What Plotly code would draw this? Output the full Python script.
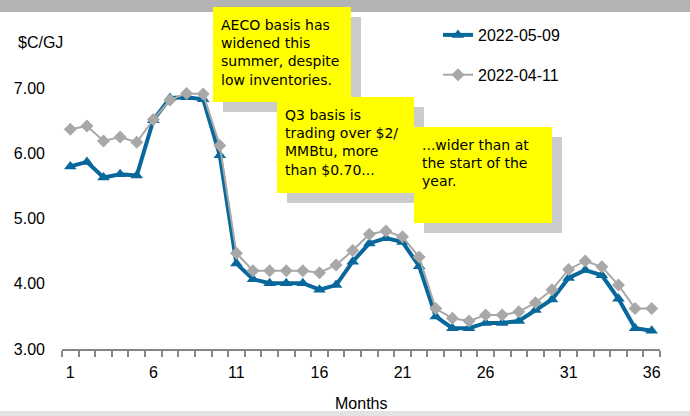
import plotly.graph_objects as go

months = list(range(1, 37))
may09 = [5.80, 5.87, 5.63, 5.68, 5.66, 6.51, 6.85, 6.86, 6.83, 5.97,
         4.31, 4.07, 4.01, 4.01, 4.01, 3.91, 3.98, 4.34, 4.62, 4.70,
         4.64, 4.27, 3.50, 3.32, 3.32, 3.40, 3.40, 3.43, 3.60, 3.76,
         4.09, 4.21, 4.13, 3.77, 3.32, 3.28]
apr11 = [6.37, 6.42, 6.19, 6.25, 6.17, 6.52, 6.82, 6.92, 6.91, 6.12,
         4.47, 4.20, 4.20, 4.20, 4.20, 4.17, 4.29, 4.51, 4.76, 4.81,
         4.72, 4.41, 3.62, 3.47, 3.43, 3.52, 3.52, 3.57, 3.71, 3.91,
         4.22, 4.35, 4.26, 3.98, 3.62, 3.62]
x_ticks = [1, 6, 11, 16, 21, 26, 31, 36]
y_ticks = [3, 4, 5, 6, 7]
y_tick_labels = ["3.00", "4.00", "5.00", "6.00", "7.00"]

notes = [
    "AECO basis has<br>widened this<br>summer, despite<br>low inventories.",
    "Q3 basis is<br>trading over $2/<br>MMBtu, more<br>than $0.70...",
    "...wider than at<br>the start of the<br>year.",
]

W, H = 690, 416
ML, MR, MT, MB = 62, 30, 23, 67
PW, PH = W - ML - MR, H - MT - MB


def px(x):
    return (x - ML) / PW


def py(y):
    return (H - MB - y) / PH


BLUE = "#08679b"
GRAY = "#a8a8a8"
AX = "#868686"
FONT = "Liberation Sans, Arial, sans-serif"
NOTE_FONT = "DejaVu Sans, sans-serif"

fig = go.Figure()
fig.add_trace(go.Scatter(
    x=months, y=may09, name="2022-05-09", mode="lines+markers",
    line=dict(color=BLUE, width=4),
    marker=dict(symbol="triangle-up", size=11, color=BLUE),
    legendgroup="a",
))
fig.add_trace(go.Scatter(
    x=months, y=apr11, name="2022-04-11", mode="lines+markers",
    line=dict(color=GRAY, width=2),
    marker=dict(symbol="diamond", size=10, color=GRAY),
    legendgroup="b",
))

shapes = [
    dict(type="rect", xref="paper", yref="paper", x0=px(0), x1=px(W),
         y0=py(12), y1=py(0), fillcolor="#b3b3b3", line=dict(width=0), layer="above"),
    dict(type="rect", xref="paper", yref="paper", x0=px(0), x1=px(W),
         y0=py(H), y1=py(411), fillcolor="#e3e3e3", line=dict(width=0), layer="above"),
]
boxes = [(213, 7, 351, 102), (277, 97, 414, 193), (414, 127, 552, 223)]
annotations = []
for (x0, y0, x1, y1), txt in zip(boxes, notes):
    shapes.append(dict(type="rect", xref="paper", yref="paper",
                       x0=px(x0 + 10), x1=px(x1 + 10), y0=py(y1 + 10), y1=py(y0 + 10),
                       fillcolor="#cccccc", line=dict(width=0), layer="above"))
    shapes.append(dict(type="rect", xref="paper", yref="paper",
                       x0=px(x0), x1=px(x1), y0=py(y1), y1=py(y0),
                       fillcolor="#ffff00", line=dict(width=0), layer="above"))
    annotations.append(dict(
        x=px(x0 + 6), y=py(y0 + 8), xref="paper", yref="paper",
        xanchor="left", yanchor="top", align="left", showarrow=False,
        text=txt, font=dict(family=NOTE_FONT, size=14, color="#000000"),
    ))

annotations.append(dict(x=px(40), y=py(42), xref="paper", yref="paper",
                        xanchor="center", yanchor="middle", showarrow=False,
                        text="$C/GJ", font=dict(family=FONT, size=16, color="#000")))
annotations.append(dict(x=px(361), y=py(403), xref="paper", yref="paper",
                        xanchor="center", yanchor="middle", showarrow=False,
                        text="Months", font=dict(family=FONT, size=16, color="#000")))

fig.update_layout(
    width=W, height=H,
    margin=dict(l=ML, r=MR, t=MT, b=MB, pad=0),
    paper_bgcolor="white", plot_bgcolor="white",
    font=dict(family=FONT, size=16, color="#000"),
    showlegend=True,
    legend=dict(x=px(438), y=py(18), xanchor="left", yanchor="top",
                bgcolor="rgba(0,0,0,0)", tracegroupgap=16,
                font=dict(family=FONT, size=16, color="#000")),
    shapes=shapes, annotations=annotations,
    xaxis=dict(range=[0.5, 36.5], tickmode="array", tickvals=x_ticks,
               ticktext=[str(v) for v in x_ticks], ticks="",
               showline=True, linecolor=AX, linewidth=1.5,
               showgrid=False, zeroline=False, ticklabelstandoff=8,
               minor=dict(ticks="outside", tickmode="linear", tick0=0.5, dtick=1,
                          ticklen=6, tickcolor=AX, tickwidth=1.5, showgrid=False)),
    yaxis=dict(range=[3, 8], tickmode="array", tickvals=y_ticks, ticktext=y_tick_labels,
               ticks="", showline=False, showgrid=False, zeroline=False,
               ticklabelstandoff=16),
)

fig.write_html("out.html", config={"displayModeBar": False},
               post_script="document.body.style.margin='0';document.body.style.overflow='hidden';")
